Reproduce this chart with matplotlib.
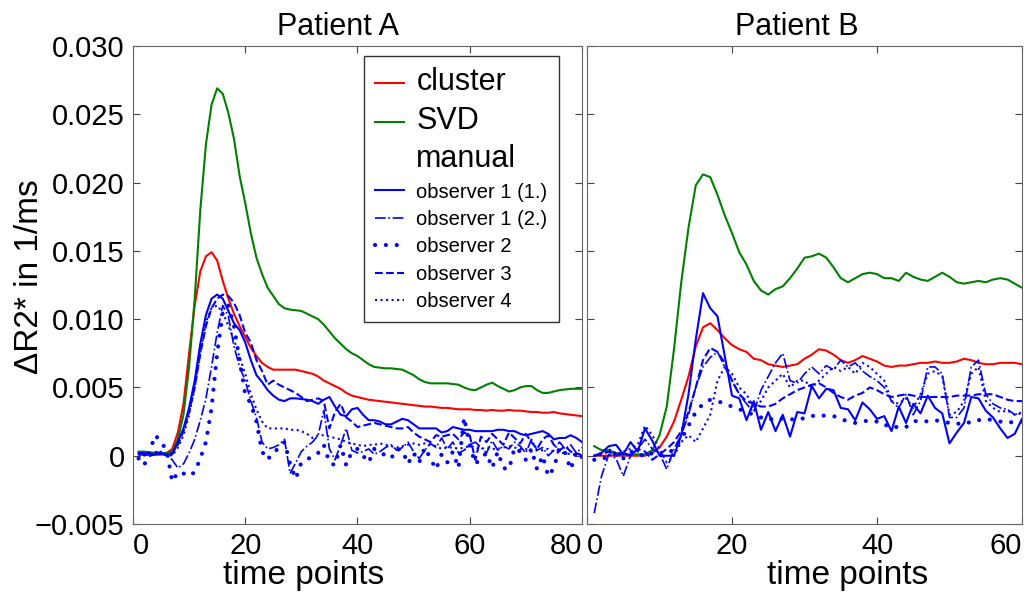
import matplotlib
matplotlib.use('Agg')
import numpy as np
import matplotlib.pyplot as plt
from matplotlib.lines import Line2D

plt.rcParams['font.family'] = ['Liberation Sans', 'DejaVu Sans']

# values, in units of 1e-3 1/ms
t_a = np.arange(1, 81)
a_cluster = [0.1, 0.1, 0.1, 0.1, 0.1, 0.2, 0.5, 1.7, 3.8, 7.5, 11.0, 13.5, 14.6, 14.9, 14.3, 12.8,
             11.5, 10.4, 9.5, 8.7, 7.9, 7.3, 6.8, 6.5, 6.3, 6.3, 6.3, 6.3, 6.3, 6.2, 6.1, 6.0, 5.8,
             5.5, 5.3, 5.1, 4.9, 4.6, 4.4, 4.3, 4.2, 4.1, 4.05, 4.0, 3.95, 3.9, 3.85, 3.8, 3.75,
             3.7, 3.65, 3.6, 3.6, 3.55, 3.5, 3.5, 3.45, 3.4, 3.4, 3.4, 3.35, 3.35, 3.3, 3.35, 3.3,
             3.3, 3.35, 3.3, 3.3, 3.25, 3.2, 3.2, 3.15, 3.15, 3.2, 3.1, 3.05, 3.0, 2.95, 2.9]
a_svd = [0.3, 0.3, 0.25, 0.2, 0.2, 0.2, 0.3, 1.2, 3.0, 6.5, 11.5, 18.0, 22.8, 25.7, 26.9, 26.5,
         25.1, 23.2, 20.5, 18.5, 16.3, 14.5, 13.3, 12.3, 11.7, 11.1, 10.8, 10.7, 10.65, 10.6, 10.4,
         10.2, 10.0, 9.6, 9.1, 8.6, 8.2, 7.8, 7.5, 7.3, 7.0, 6.7, 6.5, 6.45, 6.4, 6.4, 6.35, 6.3,
         6.1, 5.9, 5.6, 5.4, 5.3, 5.3, 5.3, 5.3, 5.25, 5.2, 5.0, 4.85, 4.8, 5.0, 5.2, 5.35, 5.1,
         4.9, 4.7, 4.8, 5.0, 5.1, 5.1, 4.8, 4.6, 4.6, 4.7, 4.8, 4.85, 4.9, 4.9, 4.9]
a_obs1 = [0.2, 0.2, 0.1, 0.1, 0.1, 0.1, 0.1, 1.0, 2.0, 3.5, 5.5, 8.2, 10.3, 11.5, 11.8, 11.5,
          10.6, 9.7, 9.2, 8.3, 7.0, 5.9, 5.4, 4.8, 4.4, 4.1, 4.0, 4.2, 4.2, 4.15, 4.1, 4.0, 3.8,
          4.1, 4.3, 3.6, 3.0, 2.9, 3.4, 3.5, 3.0, 2.6, 2.6, 2.5, 2.3, 2.3, 2.5, 2.7, 2.6, 2.3,
          2.0, 2.0, 2.0, 2.0, 1.7, 1.8, 2.1, 2.0, 1.9, 1.9, 1.8, 1.8, 1.8, 1.8, 1.9, 1.9, 1.8,
          1.8, 1.6, 1.5, 1.6, 1.7, 1.8, 1.6, 1.2, 1.3, 1.3, 1.5, 1.3, 1.0]
a_obs1b = [0.2, 0.0, 0.1, 0.3, 0.2, 0.0, -0.3, -0.9, -0.6, 0.2, 1.2, 2.6, 4.2, 6.5, 9.0, 11.0,
           10.2, 8.0, 6.5, 5.5, 4.0, 2.8, 1.0, 0.5, 0.6, 0.8, 1.2, -1.3, -0.5, 0.3, 0.7, 1.0,
           1.5, 3.3, 0.5, -0.3, 0.8, 2.0, 0.4, 0.2, 0.3, 0.5, 0.1, 0.3, 0.6, 0.8, 0.4, 0.6,
           1.0, 0.3, -0.2, 0.4, 0.9, 0.6, 1.3, 0.5, 1.0, 0.2, 0.4, 0.8, 1.0, 0.6, 0.2, 1.1, 0.4,
           0.7, 0.5, 1.0, 0.7, 0.2, 1.2, 0.4, 0.6, 0.0, 0.4, 1.0, 0.5, 0.8, 0.2, 0.6]
a_obs2 = [-0.2, -0.7, 0.4, 1.5, 1.0, 0.4, -1.9, -1.2, -1.3, -1.5, -1.2, -0.2, 1.0, 3.5, 7.5,
          10.5, 11.0, 9.5, 7.0, 4.5, 3.8, 2.5, 0.3, -0.3, 0.3, 0.5, 1.0, -0.6, -1.7, -0.5, -0.3,
          0.0, 0.2, 0.8, -0.5, -0.7, 0.8, -0.7, 0.3, 0.5, 0.0, -0.5, 0.5, 0.3, 0.0, -0.2, 0.5,
          0.4, -0.6, 0.2, -0.5, 0.6, -0.2, -1.0, 0.1, -0.5, 0.3, -0.9, 2.8, 0.8, -0.6, -0.2,
          0.2, -0.9, 0.3, -0.9, -1.0, 0.6, 0.3, -0.3, 0.5, -1.0, 0.0, -1.5, -0.9, 0.6, 0.2,
          -1.0, 0.3, -0.1]
a_obs3 = [0.1, 0.2, 0.0, 0.1, 0.2, 0.0, 0.2, 0.8, 1.8, 3.2, 5.0, 7.5, 9.5, 10.8, 11.5, 11.8,
          11.7, 11.2, 10.3, 9.0, 8.3, 7.0, 6.2, 5.2, 5.5, 5.2, 5.0, 4.8, 4.6, 4.3, 4.0, 4.1,
          4.2, 4.0, 2.0, 3.2, 3.8, 2.8, 2.5, 2.1, 2.2, 2.3, 2.4, 2.3, 2.2, 2.1, 2.0, 2.0, 2.1,
          1.7, 1.4, 1.2, 1.0, 1.5, 1.4, 1.5, 1.6, 1.2, 1.7, 1.5, -0.3, 1.4, 1.0, 1.6, 1.2, 0.8,
          1.7, 1.3, 0.9, 1.6, 1.0, 0.5, 1.2, 1.5, 0.8, 0.4, 0.7, 0.3, 0.2, 0.0]
a_obs4 = [0.0, 0.1, 0.0, 0.2, 0.3, 0.1, 0.0, 0.6, 1.5, 3.0, 5.0, 7.5, 9.8, 10.8, 11.0, 10.5,
          9.5, 8.5, 7.2, 6.0, 4.5, 3.4, 2.5, 2.0, 2.0, 2.0, 2.0, 1.9, 1.9, 1.8, 1.6, 1.3, 1.5,
          1.5, 1.4, 1.3, 1.2, 1.0, 0.9, 0.8, 0.7, 0.8, 0.8, 0.9, 0.8, 0.7, 0.6, 0.7, 0.8, 0.9,
          0.8, 0.9, 0.8, 0.7, 0.5, 0.6, 0.6, 0.5, 0.6, 0.7, 0.6, 0.5, 0.6, 0.5, 0.5, 0.6, 0.7,
          0.6, 0.5, 0.5, 0.3, 0.4, 0.4, 0.5, 0.3, 0.2, 0.2, 0.1, 0.1, 0.1]

t_b = np.arange(1, 61)
b_cluster = [0, 0, 0, 0, 0, 0, 0, 0, 0.2, 0.6, 1.4, 2.5, 4.1, 5.8, 8.0, 9.4, 9.7, 9.2, 8.6, 8.1,
             7.8, 7.6, 7.1, 7.0, 6.7, 6.6, 6.5, 6.6, 6.7, 7.1, 7.4, 7.8, 7.7, 7.4, 7.0, 6.8, 7.0,
             7.3, 7.1, 6.9, 6.6, 6.5, 6.6, 6.6, 6.7, 6.8, 6.8, 6.9, 6.8, 6.8, 6.9, 7.1, 7.0, 6.8,
             6.7, 6.7, 6.8, 6.8, 6.8, 6.7]
b_svd = [0.7, 0.4, 0.4, 0.2, 0.1, 0.1, 0.1, 0.1, 0.4, 1.5, 3.6, 7.8, 12.7, 16.7, 19.8, 20.6, 20.4,
         19.1, 17.6, 16.3, 14.9, 14.0, 12.8, 12.1, 11.8, 12.2, 12.4, 13.0, 13.7, 14.5, 14.6, 14.8,
         14.5, 13.8, 13.0, 12.7, 13.0, 13.3, 13.4, 13.3, 13.0, 13.0, 12.8, 13.4, 13.1, 12.9, 12.8,
         13.1, 13.4, 13.1, 12.7, 12.6, 12.7, 12.8, 12.7, 12.9, 13.0, 12.9, 12.6, 12.3]
b_obs1 = [0.0, 0.2, 0.7, 0.8, 0.1, 1.0, 0.3, 2.0, 1.1, 0.0, 0.0, 0.0, 1.5, 4.5, 8.5, 11.9, 10.8,
          10.2, 7.3, 4.4, 4.2, 2.6, 4.0, 1.9, 3.2, 1.8, 3.0, 1.4, 3.2, 3.1, 5.1, 4.2, 4.9, 4.8,
          3.5, 3.4, 2.6, 3.9, 3.4, 2.7, 2.9, 1.8, 3.6, 2.4, 3.8, 3.1, 4.4, 3.5, 3.1, 0.9, 1.7,
          2.4, 4.3, 4.2, 3.3, 2.8, 2.0, 1.3, 1.6, 2.7]
b_obs1b = [-4.2, -1.5, 0.1, -0.2, -1.5, 0.0, 0.5, 1.2, 0.5, 0.2, -1.0, 0.5, 1.5, 3.0, 5.0, 6.5,
           7.2, 7.6, 6.5, 5.5, 4.5, 3.8, 3.2, 4.8, 5.8, 6.8, 7.5, 5.5, 5.3, 6.0, 6.5, 6.0, 6.6,
           6.3, 7.0, 6.5, 6.8, 6.2, 5.8, 5.5, 5.0, 4.0, 3.5, 4.5, 3.0, 4.0, 6.5, 6.5, 6.0, 2.8,
           2.8, 3.5, 6.5, 7.0, 4.5, 3.8, 3.5, 3.4, 3.0, 3.2]
b_obs2 = [-0.3, -0.3, 0.0, 0.2, -0.2, 0.3, 0.2, -0.1, 0.2, 0.0, 0.1, 0.5, 1.2, 2.2, 3.2, 3.8,
          4.1, 4.0, 3.8, 3.6, 3.4, 3.2, 3.0, 2.8, 2.6, 2.8, 2.7, 2.6, 2.8, 2.7, 2.9, 3.0, 2.9,
          2.9, 2.7, 2.5, 2.4, 2.5, 2.6, 2.5, 2.2, 2.3, 2.0, 2.1, 2.5, 2.6, 2.5, 2.6, 2.5, 2.4,
          2.3, 2.5, 2.4, 2.6, 2.7, 2.6, 2.5, 2.4, 2.5, 2.5]
b_obs3 = [0.0, 0.1, 0.3, 0.0, 0.2, 0.0, 0.5, 0.3, -0.3, 0.1, 0.5, 1.0, 1.8, 3.2, 5.0, 7.0, 7.9,
          7.6, 6.8, 5.5, 4.5, 4.0, 3.8, 3.6, 3.6, 3.8, 4.2, 4.5, 4.8, 5.0, 5.2, 5.3, 5.0, 4.6,
          4.3, 4.1, 4.4, 4.6, 5.0, 4.8, 4.5, 4.3, 4.4, 4.5, 4.4, 4.3, 4.3, 4.3, 4.3, 4.3, 4.4,
          4.4, 4.4, 4.5, 4.5, 4.5, 4.3, 4.1, 4.0, 4.0]
b_obs4 = [0.0, 0.2, 0.5, 0.1, 0.3, 0.5, 0.8, 2.2, 1.5, 0.5, -0.5, 0.0, 1.0, 1.5, 1.0, 2.0, 3.0,
          5.5, 6.5, 6.0, 5.0, 4.5, 3.5, 4.0, 5.0, 5.5, 6.0, 5.0, 5.5, 5.5, 5.0, 5.5, 6.0, 6.5,
          6.2, 6.5, 6.0, 6.8, 6.5, 6.0, 5.5, 4.0, 3.8, 4.2, 3.5, 4.5, 6.0, 6.2, 5.8, 3.0, 3.2,
          4.0, 6.0, 6.5, 4.0, 3.5, 3.2, 3.3, 3.0, 3.1]

yticks = [-0.005, 0, 0.005, 0.010, 0.015, 0.020, 0.025, 0.030]
ytick_labels = ['\u22120.005', '0', '0.005', '0.010', '0.015', '0.020', '0.025', '0.030']

DOTS = (0, (0.01, 2.6))
styles = [
    ('cluster', dict(color='red', lw=1.5, ls='-')),
    ('SVD', dict(color='green', lw=1.5, ls='-')),
    ('observer 1 (1.)', dict(color='blue', lw=1.5, ls='-')),
    ('observer 1 (2.)', dict(color='blue', lw=1.2, ls='-.')),
    ('observer 2', dict(color='blue', lw=3.0, ls=DOTS, dash_capstyle='round')),
    ('observer 3', dict(color='blue', lw=1.5, ls='--')),
    ('observer 4', dict(color='blue', lw=1.5, ls=':')),
]


def draw(ax, t, series):
    for (name, st), y in zip(styles, series):
        ax.plot(t, np.asarray(y) * 1e-3, **st)
    ax.set_ylim(-0.005, 0.030)
    ax.set_yticks(yticks)
    ax.tick_params(direction='in', top=True, right=True, length=5,
                   labelsize=21, color='#444444', pad=6)
    for s in ax.spines.values():
        s.set_color('#666666')


def edge_labels(ax):
    # first/last x tick labels sit inside the axes, as in the original
    labs = ax.get_xticklabels()
    labs[0].set_horizontalalignment('left')
    labs[-1].set_horizontalalignment('right')


fig = plt.figure(figsize=(10.34, 5.96), dpi=100)
ax1 = fig.add_axes([0.1286, 0.1208, 0.4342, 0.802])
ax2 = fig.add_axes([0.5677, 0.1208, 0.4207, 0.802])

draw(ax1, t_a, [a_cluster, a_svd, a_obs1, a_obs1b, a_obs2, a_obs3, a_obs4])
ax1.set_xlim(0, 80)
ax1.set_xticks([0, 20, 40, 60, 80])
ax1.set_xticklabels(['0', '20', '40', '60', '80'])
edge_labels(ax1)
ax1.set_yticklabels(ytick_labels)
ax1.set_ylabel('\u0394R2* in 1/ms', fontsize=24)
ax1.yaxis.set_label_coords(-0.196, 0.517)
ax1.set_title('Patient A', fontsize=22, x=0.457, pad=8)
ax1.set_xlabel('time points', fontsize=24, x=0.381, labelpad=0)

draw(ax2, t_b, [b_cluster, b_svd, b_obs1, b_obs1b, b_obs2, b_obs3, b_obs4])
ax2.set_xlim(0, 60)
ax2.set_xticks([0, 20, 40, 60])
ax2.set_xticklabels(['0', '20', '40', '60'])
edge_labels(ax2)
ax2.set_yticklabels([])
ax2.set_title('Patient B', fontsize=22, x=0.483, pad=8)
ax2.set_xlabel('time points', fontsize=24, x=0.60, labelpad=0)

# legend with a blank "manual" header row
handles = [Line2D([], [], **styles[0][1]), Line2D([], [], **styles[1][1]),
           Line2D([], [], color='none')]
labels = ['cluster', 'SVD', 'manual']
for name, st in styles[2:]:
    handles.append(Line2D([], [], **st))
    labels.append(name)
leg = ax1.legend(handles, labels, loc='upper left', bbox_to_anchor=(0.5145, 0.979),
                 borderaxespad=0, fancybox=False, framealpha=1, edgecolor='#333333',
                 handlelength=1.45, handletextpad=0.6, labelspacing=0.42, borderpad=0.55,
                 fontsize=14.5)
leg.get_frame().set_linewidth(1.0)
for txt in leg.get_texts()[:3]:
    txt.set_fontsize(22)

fig.savefig('out.png', dpi=100)
